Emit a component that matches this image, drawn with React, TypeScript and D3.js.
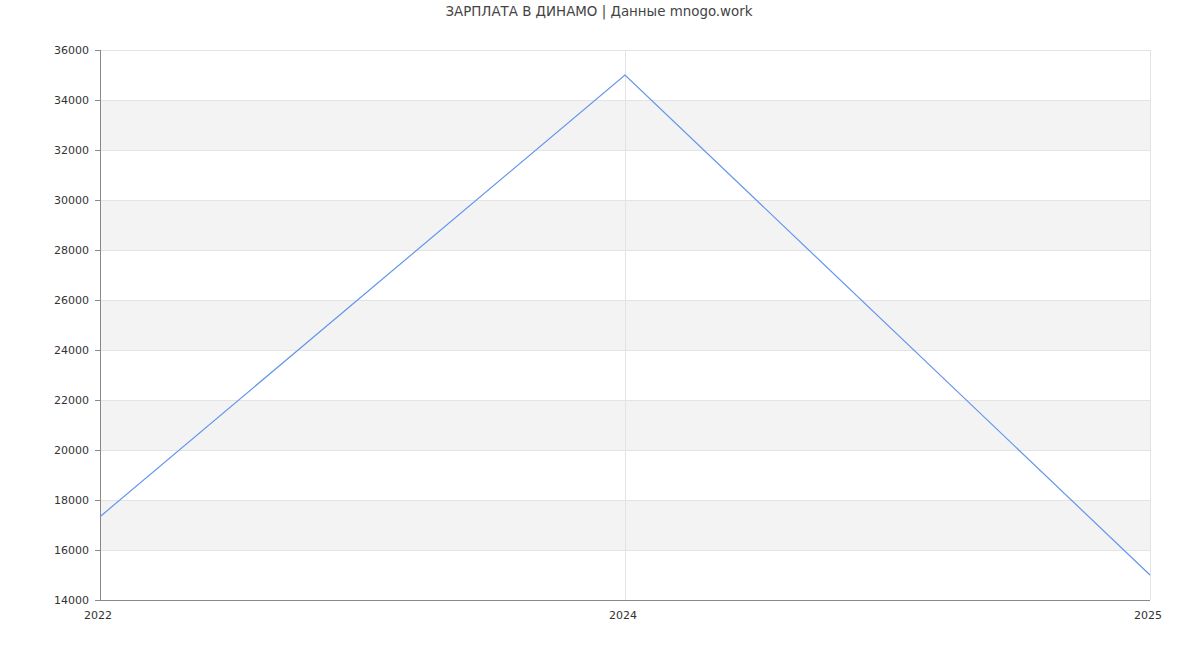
import React from "react";
import * as d3 from "d3";

const categories = ["2022", "2024", "2025"];
const salaries = [17333, 35000, 15000];
const yTicks = [14000, 16000, 18000, 20000, 22000, 24000, 26000, 28000, 30000, 32000, 34000, 36000];
const title = "ЗАРПЛАТА В ДИНАМО | Данные mnogo.work";

export default function App() {
  const W = 1200, H = 650;
  const m = { left: 100, right: 50, top: 50, bottom: 50 };
  const x = d3.scalePoint<string>().domain(categories).range([m.left, W - m.right]);
  const y = d3.scaleLinear().domain([14000, 36000]).range([H - m.bottom, m.top]);
  const line = d3.line<number>().x((_, i) => x(categories[i])!).y((d) => y(d));
  const font = "'DejaVu Sans', sans-serif";
  const bands = yTicks.slice(0, -1).map((t, i) => ({ lo: t, hi: yTicks[i + 1], i })).filter((b) => b.i % 2 === 1);
  return (
    <svg width={W} height={H} style={{ position: "absolute", left: 0, top: 0 }} fontFamily={font}>
      <rect x={0} y={0} width={W} height={H} fill="#fff" />
      {bands.map((b) => (
        <rect key={b.lo} x={m.left} width={W - m.right - m.left} y={y(b.hi)} height={y(b.lo) - y(b.hi)} fill="#f3f3f3" />
      ))}
      {yTicks.map((t) => (
        <line key={t} x1={m.left} x2={W - m.right} y1={y(t)} y2={y(t)} stroke="#e3e3e3" strokeWidth={1} shapeRendering="crispEdges" />
      ))}
      {categories.slice(1).map((c) => (
        <line key={c} x1={x(c)} x2={x(c)} y1={m.top} y2={H - m.bottom} stroke="#e3e3e3" strokeWidth={1} shapeRendering="crispEdges" />
      ))}
      <line x1={m.left} x2={m.left} y1={m.top} y2={H - m.bottom} stroke="#888" shapeRendering="crispEdges" />
      <line x1={m.left} x2={W - m.right} y1={H - m.bottom} y2={H - m.bottom} stroke="#888" shapeRendering="crispEdges" />
      {yTicks.map((t) => (
        <g key={t}>
          <line x1={m.left - 5} x2={m.left} y1={y(t)} y2={y(t)} stroke="#888" shapeRendering="crispEdges" />
          <text x={m.left - 11} y={y(t)} dy="0.35em" textAnchor="end" fontSize={11} fill="#333">{t}</text>
        </g>
      ))}
      {categories.map((c) => (
        <text key={c} x={x(c)! - 2} y={H - m.bottom + 19} textAnchor="middle" fontSize={11} fill="#333">{c}</text>
      ))}
      <path d={line(salaries)!} fill="none" stroke="#6495ed" strokeWidth={1.2} />
      <text x={W / 2 - 1} y={16} textAnchor="middle" fontSize={13.4} fill="#444">{title}</text>
    </svg>
  );
}
